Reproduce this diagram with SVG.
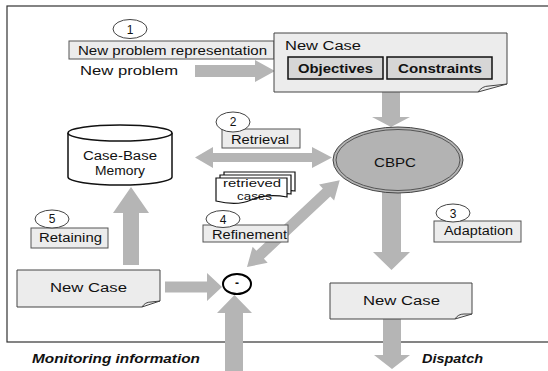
<svg xmlns="http://www.w3.org/2000/svg" width="548" height="371" viewBox="0 0 548 371">
<style>
text{font-family:"Liberation Sans",Arial,sans-serif;font-size:12px;fill:#111}
.lbl{fill:#ececec;stroke:#555;stroke-width:1}
.num{fill:#fff;stroke:#444;stroke-width:1}
.note{fill:#ececec;stroke:#444;stroke-width:1}
.arr{fill:#b5b5b5;stroke:none}
.key{fill:#d6d6d6;stroke:#111;stroke-width:1.5}
.b{font-weight:bold}
.bi{font-weight:bold;font-style:italic}
.doc{fill:#fff;stroke:#111;stroke-width:1.2}
.sm{font-size:11px}
</style>
<rect width="548" height="371" fill="#fff"/>
<rect id="frame" x="7" y="6" width="560" height="336" fill="none" stroke="#333" stroke-width="1.2"/>

<g id="connectors">
  <polygon class="arr" points="195,65 255,65 255,60 275,71 255,82 255,77 195,77"/>
  <polygon class="arr" points="382,92 400,92 400,117 410,117 391,127 372,117 382,117"/>
  <polygon class="arr" points="195,157.5 213,147 213,153 312,153 312,147 332,157.5 312,168 312,162 213,162 213,168"/>
  <polygon class="arr" transform="translate(247,267) rotate(-43.1)" points="0,0 18,-11 18,-5.5 109,-5.5 109,-11 127,0 109,11 109,5.5 18,5.5 18,11"/>
  <polygon class="arr" points="123,265 123,213 113,213 131,187 149,213 139,213 139,265"/>
  <polygon class="arr" points="165,281.5 207,281.5 207,273 222,287 207,301 207,292.5 165,292.5"/>
  <polygon class="arr" points="225,372 225,313 217,313 234.5,295 252,313 243,313 243,372"/>
  <polygon class="arr" points="382,190 401,190 401,252 410,252 391.5,270 373,252 382,252"/>
  <polygon class="arr" points="383,319 401,319 401,355 410,355 392,369 374,355 383,355"/>
</g>

<g id="step1">
  <rect class="lbl" x="69" y="41" width="205" height="18"/>
  <text x="78" y="55" textLength="189" lengthAdjust="spacingAndGlyphs">New problem representation</text>
  <ellipse class="num" cx="130" cy="29" rx="17" ry="9.5"/>
  <text x="130" y="34" text-anchor="middle">1</text>
</g>
<g id="new-problem">
  <text x="80" y="75" textLength="98" lengthAdjust="spacingAndGlyphs">New problem</text>
</g>

<g id="new-case-top">
  <path class="note" d="M274,33 H507 V84 L478,92 H274 Z"/>
  <path fill="none" stroke="#444" d="M478,92 Q482,86 489,86 L507,84"/>
  <text x="285" y="50" textLength="76" lengthAdjust="spacingAndGlyphs">New Case</text>
  <rect class="key" x="288" y="57" width="95" height="22"/>
  <text class="b" x="298" y="73" textLength="75" lengthAdjust="spacingAndGlyphs">Objectives</text>
  <rect class="key" x="387" y="57" width="105" height="22"/>
  <text class="b" x="398" y="73" textLength="84" lengthAdjust="spacingAndGlyphs">Constraints</text>
</g>

<g id="cbpc">
  <ellipse cx="398" cy="160" rx="65" ry="33" fill="#b3b3b3" stroke="#444" stroke-width="1"/>
  <ellipse cx="398" cy="160" rx="62" ry="30.5" fill="none" stroke="#555" stroke-width="1"/>
  <text x="374" y="167" textLength="42" lengthAdjust="spacingAndGlyphs">CBPC</text>
</g>

<g id="step2">
  <rect class="lbl" x="222" y="129" width="78" height="19"/>
  <text x="231" y="144" textLength="58" lengthAdjust="spacingAndGlyphs">Retrieval</text>
  <ellipse class="num" cx="233" cy="122" rx="17" ry="10"/>
  <text x="233" y="126" text-anchor="middle">2</text>
</g>

<g id="retrieved-cases">
  <path class="doc" d="M224,172 H295 V191 C282,189 272,192 266,194 L224,194 Z"/>
  <path class="doc" d="M220,175 H291 V194 C278,192 268,195 262,197 L220,197 Z"/>
  <path class="doc" d="M216,178 H287 V197 C270,194 258,197 251,200 C240,205 228,204 216,201 Z"/>
  <text class="sm" x="223" y="187" textLength="58" lengthAdjust="spacingAndGlyphs">retrieved</text>
  <text class="sm" x="237" y="200" textLength="35" lengthAdjust="spacingAndGlyphs">cases</text>
</g>

<g id="step4">
  <rect class="lbl" x="203" y="225" width="85" height="17"/>
  <text x="212" y="239" textLength="75" lengthAdjust="spacingAndGlyphs">Refinement</text>
  <ellipse class="num" cx="223" cy="219" rx="17" ry="8.5"/>
  <text x="223" y="224" text-anchor="middle">4</text>
</g>

<g id="case-base-memory">
  <path d="M68,133 V177 A52,8 0 0 0 172,177 V133" fill="#fff" stroke="#111" stroke-width="1.5"/>
  <ellipse cx="120" cy="133" rx="52" ry="8" fill="#fff" stroke="#111" stroke-width="1.5"/>
  <text x="83" y="160" textLength="74" lengthAdjust="spacingAndGlyphs">Case-Base</text>
  <text x="95" y="175" textLength="50" lengthAdjust="spacingAndGlyphs">Memory</text>
</g>

<g id="step5">
  <rect class="lbl" x="31" y="228" width="77" height="20"/>
  <text x="39" y="242" textLength="63" lengthAdjust="spacingAndGlyphs">Retaining</text>
  <ellipse class="num" cx="52" cy="219" rx="17" ry="9"/>
  <text x="52" y="223" text-anchor="middle">5</text>
</g>

<g id="new-case-left">
  <path class="note" d="M17,270 H160 V301 L142,307 H17 Z"/>
  <path fill="none" stroke="#444" d="M142,307 Q145,302 151,302 L160,301"/>
  <text x="50" y="292" textLength="77" lengthAdjust="spacingAndGlyphs">New Case</text>
</g>

<g id="minus">
  <ellipse cx="237" cy="284" rx="14" ry="10" fill="#fff" stroke="#000" stroke-width="2"/>
  <text x="237" y="287" text-anchor="middle" class="b">-</text>
</g>

<g id="step3">
  <rect class="lbl" x="434" y="221" width="87" height="21"/>
  <text x="444" y="235" textLength="69" lengthAdjust="spacingAndGlyphs">Adaptation</text>
  <ellipse class="num" cx="453" cy="213" rx="17" ry="9"/>
  <text x="453" y="218" text-anchor="middle">3</text>
</g>

<g id="new-case-right">
  <path class="note" d="M330,283 H472 V314 L455,319 H330 Z"/>
  <path fill="none" stroke="#444" d="M455,319 Q458,314 464,314 L472,314"/>
  <text x="363" y="305" textLength="77" lengthAdjust="spacingAndGlyphs">New Case</text>
</g>

<g id="monitoring">
  <text class="bi" x="32" y="363" textLength="168" lengthAdjust="spacingAndGlyphs">Monitoring  information</text>
</g>
<g id="dispatch">
  <text class="bi" x="422" y="363" textLength="61" lengthAdjust="spacingAndGlyphs">Dispatch</text>
</g>
</svg>
